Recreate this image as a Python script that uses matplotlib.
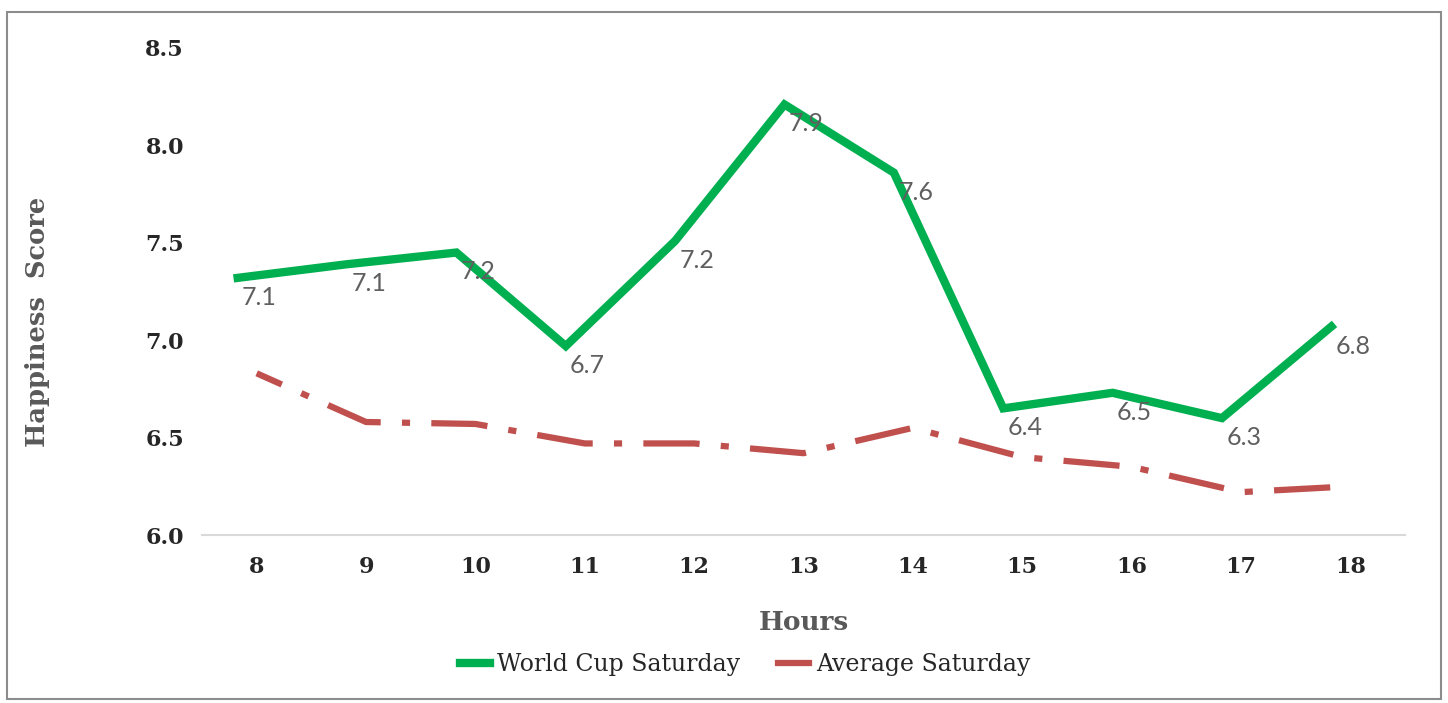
import numpy as np
import matplotlib.pyplot as plt
import matplotlib.transforms as mtransforms
from matplotlib.patches import Rectangle

hours = [8, 9, 10, 11, 12, 13, 14, 15, 16, 17, 18]
world_cup = [7.32, 7.39, 7.45, 6.97, 7.51, 8.21, 7.86, 6.65, 6.73, 6.60, 7.07]
world_cup_labels = ["7.1", "7.1", "7.2", "6.7", "7.2", "7.9", "7.6", "6.4", "6.5", "6.3", "6.8"]
average = [6.83, 6.58, 6.57, 6.47, 6.47, 6.42, 6.55, 6.40, 6.35, 6.22, 6.25]
yticks = [6.0, 6.5, 7.0, 7.5, 8.0, 8.5]

green = "#00B050"
red = "#C0504D"
serif = "DejaVu Serif"

fig = plt.figure(figsize=(14.48, 7.03), dpi=100)
ax = fig.add_axes([202 / 1448, 1 - 535 / 703, 1203 / 1448, 487 / 703])

# the green line sits a little left of the categories in the source
shift = mtransforms.ScaledTranslation(-19 / 100, 0, fig.dpi_scale_trans)
ax.plot(hours, world_cup, color=green, lw=6, solid_joinstyle="miter",
        transform=ax.transData + shift, label="World Cup Saturday", zorder=3)
ax.plot(hours, average, color=red, lw=4.5, linestyle=(4.6, (9.0, 3.4, 1.3, 3.4)),
        label="Average Saturday", zorder=2)

for h, v, t in zip(hours, world_cup, world_cup_labels):
    ax.annotate(t, (h, v), xytext=(2, -14), textcoords="offset points",
                ha="center", va="center", fontsize=18, color="#5F5F5F",
                family="Lato", zorder=4)

ax.set_xlim(7.5, 18.5)
ax.set_ylim(6.0, 8.5)
ax.set_xticks(hours)
ax.set_yticks(yticks)
ax.set_yticklabels([f"{v:.1f}" for v in yticks])
for s in ["top", "right", "left"]:
    ax.spines[s].set_visible(False)
ax.spines["bottom"].set_color("#D9D9D9")
ax.spines["bottom"].set_linewidth(1.5)
ax.tick_params(length=0)
ax.tick_params(axis="y", pad=13)
ax.tick_params(axis="x", pad=15)
for lab in ax.get_xticklabels() + ax.get_yticklabels():
    lab.set_fontfamily(serif)
    lab.set_fontweight("bold")
    lab.set_fontsize(16)
    lab.set_color("#262626")

ax.set_xlabel("Hours", family=serif, fontweight="bold", fontsize=19,
              color="#595959", labelpad=23)
ax.set_ylabel("Happiness  Score", family=serif, fontweight="bold", fontsize=18.5,
              color="#595959")
ax.yaxis.set_label_coords(50 / 1448, 1 - 322 / 703, transform=fig.transFigure)

leg = fig.legend(loc="center", bbox_to_anchor=(745 / 1448, 1 - 665 / 703), ncol=2,
                 frameon=False, prop={"family": serif, "size": 17},
                 handlelength=1.3, columnspacing=1.6, handletextpad=0.3)
for t in leg.get_texts():
    t.set_color("#262626")
leg.legend_handles[1].set_linestyle("-")

fig.patches.append(Rectangle((7 / 1448, 4 / 703), 1434 / 1448, 687 / 703,
                             transform=fig.transFigure, fill=False,
                             edgecolor="#8C8C8C", lw=1.5))

fig.savefig("out.png", dpi=100)
